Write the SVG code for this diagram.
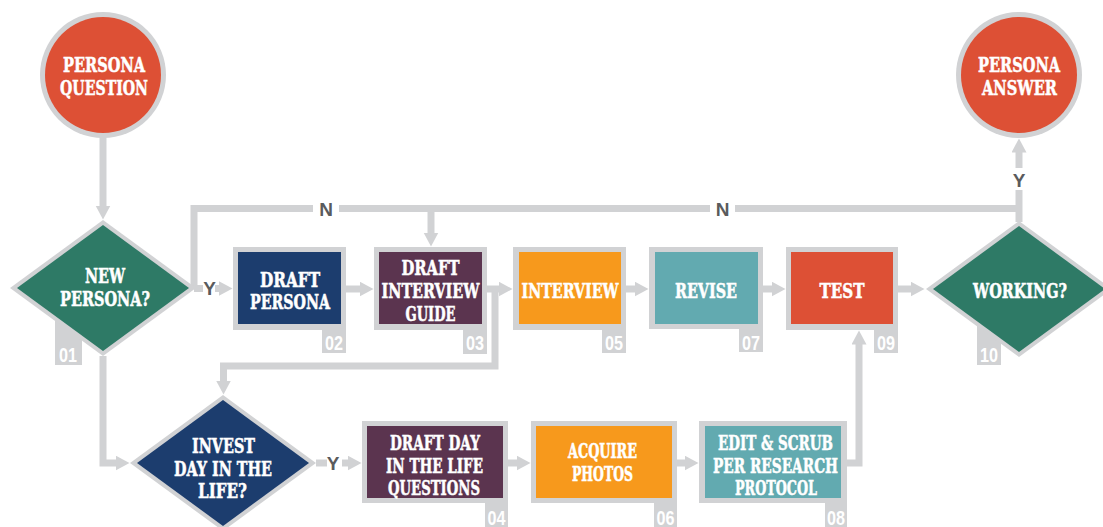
<svg xmlns="http://www.w3.org/2000/svg" width="1103" height="527" viewBox="0 0 1103 527">
<defs>
<marker id="ah" markerUnits="userSpaceOnUse" markerWidth="15" markerHeight="16" refX="0.5" refY="7.5" orient="auto" viewBox="0 0 15 16">
<path d="M0,0 L14,7.5 L0,15 Z" fill="#D1D2D4"/>
</marker>
<style>
.c{fill:none;stroke:#D1D2D4;stroke-width:7}
.a{marker-end:url(#ah)}
.g{fill:#D1D2D4}
.red{fill:#DD5035}
.grn{fill:#2E7A66}
.nav{fill:#1C3D6E}
.pur{fill:#5B344F}
.org{fill:#F7991C}
.tea{fill:#62AAB0}
.t{font-family:"DejaVu Serif","Liberation Serif",serif;font-weight:bold;font-stretch:condensed;fill:#FFFFFF;stroke:#FFFFFF;stroke-width:0.5;text-anchor:middle;font-size:20px}
.tb{font-size:21px}
.n{font-family:"Liberation Sans",Arial,sans-serif;font-weight:bold;fill:#FFFFFF;text-anchor:middle;font-size:20px}
.l{font-family:"Liberation Sans",Arial,sans-serif;font-weight:bold;fill:#5A5B5D;text-anchor:middle;font-size:19px}
</style>
</defs>
<rect width="1103" height="527" fill="#FFFFFF"/>

<g id="connectors">
<path class="c a" d="M103,137 V206"/>
<path class="c" d="M194,288.5 H203"/>
<path class="c a" d="M215,288.5 H219"/>
<path class="c" d="M194,288 V208.5 H313"/>
<path class="c" d="M339,208.5 H710"/>
<path class="c" d="M735,208.5 H1019"/>
<path class="c" d="M1019,222 V190"/>
<path class="c a" d="M1019,168 V152"/>
<path class="c a" d="M431,208.5 V233"/>
<path class="c a" d="M346,289 H360"/>
<path class="c a" d="M487,289 H499"/>
<path class="c a" d="M495,289 V366 H223.5 V381"/>
<path class="c a" d="M626,289 H635"/>
<path class="c a" d="M763,289 H772"/>
<path class="c a" d="M898,289 H911"/>
<path class="c a" d="M103,356 V463 H116"/>
<path class="c" d="M316,463 H327"/>
<path class="c a" d="M342,463 H348"/>
<path class="c a" d="M508,463 H517"/>
<path class="c a" d="M677,463 H685"/>
<path class="c a" d="M847,463 H859 V344"/>
<text class="l" x="326" y="216">N</text>
<text class="l" x="722.5" y="216">N</text>
<text class="l" x="209.5" y="295">Y</text>
<text class="l" x="1019" y="187">Y</text>
<text class="l" x="333" y="470">Y</text>
</g>

<g id="persona-question">
<circle class="g" cx="103" cy="75" r="63"/>
<circle class="red" cx="103" cy="75" r="58"/>
<text class="t tb" x="104" y="72" textLength="82" lengthAdjust="spacingAndGlyphs">PERSONA</text>
<text class="t tb" x="104" y="95" textLength="88" lengthAdjust="spacingAndGlyphs">QUESTION</text>
</g>

<g id="n01-new-persona">
<rect class="g" x="55" y="318" width="27" height="47"/>
<text class="n" x="68" y="362" textLength="18" lengthAdjust="spacingAndGlyphs">01</text>
<polygon class="g" points="103,220 196,288 103,356 10,288"/>
<polygon class="grn" points="103,225 189,288 103,351 17,288"/>
<text class="t" x="105" y="283" textLength="40" lengthAdjust="spacingAndGlyphs">NEW</text>
<text class="t" x="105" y="306" textLength="90" lengthAdjust="spacingAndGlyphs">PERSONA?</text>
</g>

<g id="n02-draft-persona">
<rect class="g" x="233" y="247" width="113" height="83"/>
<rect class="g" x="322" y="329" width="24" height="24"/>
<rect class="nav" x="238" y="252" width="103" height="72"/>
<text class="t" x="290" y="287" textLength="60" lengthAdjust="spacingAndGlyphs">DRAFT</text>
<text class="t" x="290" y="309" textLength="80" lengthAdjust="spacingAndGlyphs">PERSONA</text>
<text class="n" x="334" y="350" textLength="18" lengthAdjust="spacingAndGlyphs">02</text>
</g>

<g id="n03-draft-interview-guide">
<rect class="g" x="374" y="247" width="113" height="83"/>
<rect class="g" x="463" y="329" width="24" height="25"/>
<rect class="pur" x="379" y="252" width="103" height="72"/>
<text class="t" x="430.5" y="275" textLength="58" lengthAdjust="spacingAndGlyphs">DRAFT</text>
<text class="t" x="430.5" y="298" textLength="98" lengthAdjust="spacingAndGlyphs">INTERVIEW</text>
<text class="t" x="430.5" y="321" textLength="50" lengthAdjust="spacingAndGlyphs">GUIDE</text>
<text class="n" x="475" y="350" textLength="18" lengthAdjust="spacingAndGlyphs">03</text>
</g>

<g id="n05-interview">
<rect class="g" x="513" y="247" width="113" height="83"/>
<rect class="g" x="602" y="329" width="24" height="24"/>
<rect class="org" x="519" y="252" width="102" height="72"/>
<text class="t" x="570" y="298" textLength="97" lengthAdjust="spacingAndGlyphs">INTERVIEW</text>
<text class="n" x="614" y="350" textLength="18" lengthAdjust="spacingAndGlyphs">05</text>
</g>

<g id="n07-revise">
<rect class="g" x="649" y="247" width="114" height="82"/>
<rect class="g" x="739" y="328" width="24" height="24"/>
<rect class="tea" x="655" y="252" width="103" height="72"/>
<text class="t" x="706" y="298" textLength="62" lengthAdjust="spacingAndGlyphs">REVISE</text>
<text class="n" x="751" y="350" textLength="18" lengthAdjust="spacingAndGlyphs">07</text>
</g>

<g id="n09-test">
<rect class="g" x="786" y="247" width="112" height="83"/>
<rect class="g" x="874" y="329" width="24" height="24"/>
<rect class="red" x="791" y="252" width="102" height="72"/>
<text class="t" x="842" y="298" textLength="45" lengthAdjust="spacingAndGlyphs">TEST</text>
<text class="n" x="886" y="350" textLength="18" lengthAdjust="spacingAndGlyphs">09</text>
</g>

<g id="n10-working">
<rect class="g" x="977" y="318" width="24" height="47"/>
<text class="n" x="989" y="362" textLength="18" lengthAdjust="spacingAndGlyphs">10</text>
<polygon class="g" points="1019,221 1112,289 1019,357 926,289"/>
<polygon class="grn" points="1019,226 1105,289 1019,352 933,289"/>
<text class="t" x="1020" y="298" textLength="94" lengthAdjust="spacingAndGlyphs">WORKING?</text>
</g>

<g id="persona-answer">
<circle class="g" cx="1019" cy="75" r="63"/>
<circle class="red" cx="1019" cy="75" r="58"/>
<text class="t tb" x="1019" y="72" textLength="82" lengthAdjust="spacingAndGlyphs">PERSONA</text>
<text class="t tb" x="1019.5" y="95" textLength="75" lengthAdjust="spacingAndGlyphs">ANSWER</text>
</g>

<g id="invest-day-in-the-life">
<polygon class="g" points="223,395 316,463 223,531 130,463"/>
<polygon class="nav" points="223,400 309,463 223,526 137,463"/>
<text class="t" x="223.5" y="453" textLength="63" lengthAdjust="spacingAndGlyphs">INVEST</text>
<text class="t" x="223" y="476" textLength="98" lengthAdjust="spacingAndGlyphs">DAY IN THE</text>
<text class="t" x="222.5" y="498" textLength="49" lengthAdjust="spacingAndGlyphs">LIFE?</text>
</g>

<g id="n04-draft-day-in-the-life-questions">
<rect class="g" x="362" y="421" width="146" height="82"/>
<rect class="g" x="485" y="502" width="23" height="25"/>
<rect class="pur" x="367" y="426" width="136" height="72"/>
<text class="t" x="435" y="450" textLength="90" lengthAdjust="spacingAndGlyphs">DRAFT DAY</text>
<text class="t" x="434.5" y="473" textLength="97" lengthAdjust="spacingAndGlyphs">IN THE LIFE</text>
<text class="t" x="434" y="495" textLength="92" lengthAdjust="spacingAndGlyphs">QUESTIONS</text>
<text class="n" x="496.5" y="525" textLength="18" lengthAdjust="spacingAndGlyphs">04</text>
</g>

<g id="n06-acquire-photos">
<rect class="g" x="531" y="421" width="146" height="82"/>
<rect class="g" x="654" y="502" width="23" height="25"/>
<rect class="org" x="536" y="426" width="136" height="72"/>
<text class="t" x="602.5" y="458" textLength="69" lengthAdjust="spacingAndGlyphs">ACQUIRE</text>
<text class="t" x="602.5" y="481" textLength="61" lengthAdjust="spacingAndGlyphs">PHOTOS</text>
<text class="n" x="665.5" y="525" textLength="18" lengthAdjust="spacingAndGlyphs">06</text>
</g>

<g id="n08-edit-scrub">
<rect class="g" x="699" y="421" width="148" height="82"/>
<rect class="g" x="825" y="502" width="22" height="25"/>
<rect class="tea" x="705" y="426" width="136" height="72"/>
<text class="t" x="775.5" y="450" textLength="115" lengthAdjust="spacingAndGlyphs">EDIT &amp; SCRUB</text>
<text class="t" x="775.5" y="473" textLength="125" lengthAdjust="spacingAndGlyphs">PER RESEARCH</text>
<text class="t" x="776" y="495" textLength="82" lengthAdjust="spacingAndGlyphs">PROTOCOL</text>
<text class="n" x="836" y="525" textLength="18" lengthAdjust="spacingAndGlyphs">08</text>
</g>
</svg>
